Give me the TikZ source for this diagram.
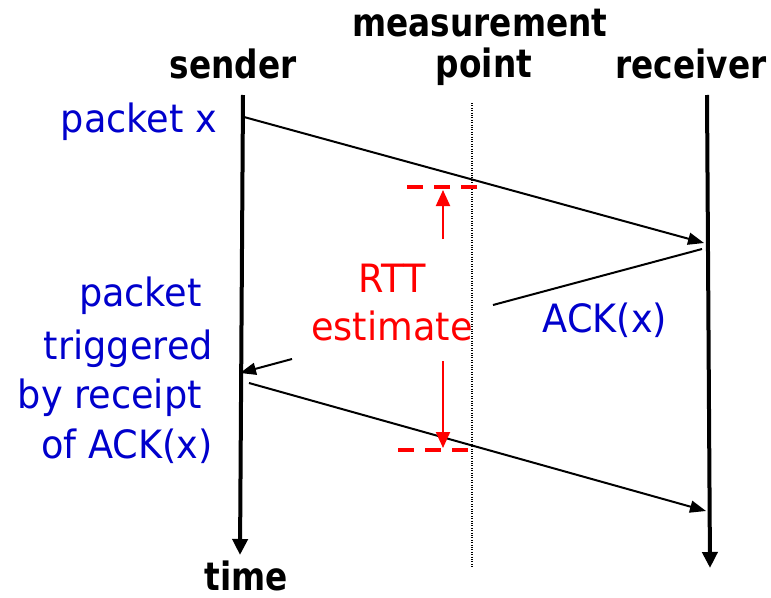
\documentclass[tikz,border=0pt]{standalone}
\usepackage{fontspec}
\setmainfont{DejaVu Sans}
\newfontfamily\lblfont[FakeStretch=0.94]{DejaVu Sans}
\newfontfamily\hdfont[FakeStretch=0.84]{DejaVu Sans}
\usetikzlibrary{arrows.meta}
\definecolor{msgblue}{RGB}{0,0,204}
\definecolor{rttred}{RGB}{255,0,0}

\begin{document}
\begin{tikzpicture}[x=1pt,y=-1pt,
  heading/.style={font={\hdfont\bfseries\fontsize{39}{47}\selectfont}, inner sep=0pt, anchor=base},
  bluelabel/.style={font={\lblfont\fontsize{39}{47}\selectfont}, text=msgblue, inner sep=0pt},
  redlabel/.style={font={\lblfont\fontsize{39}{47}\selectfont}, text=rttred, inner sep=0pt, anchor=base},
  timeline/.style={line width=4pt, -{Triangle[length=16pt,width=15pt]}},
  message/.style={line width=2pt, -{Triangle[length=16pt,width=12pt]}},
  msgline/.style={line width=2pt},
  probe/.style={line width=1.2pt, dash pattern=on 1pt off 1.4pt},
  rttmark/.style={rttred, line width=4pt, dash pattern=on 16pt off 11pt},
  rttarrow/.style={rttred, line width=2pt, -{Triangle[length=16pt,width=14pt]}}
]
\useasboundingbox (0,0) rectangle (771,597);

% column headings
\node[heading] (hmeas) at (480,36.7) {measurement};
\node[heading] (hpoint) at (484,77) {point};
\node[heading] (hsend) at (233,78) {sender};
\node[heading] (hrecv) at (691,78) {receiver};
\node[heading] (htime) at (246,590) {time};

% time lines
\coordinate (s0) at (243,95);
\coordinate (s1) at (240,555);
\coordinate (r0) at (707,95);
\coordinate (r1) at (710,568);
\coordinate (m0) at (472,103);
\coordinate (m1) at (472,568);
\draw[timeline] (s0) -- (s1);
\draw[timeline] (r0) -- (r1);
\draw[probe] (m0) -- (m1);

% packet x
\coordinate (p1a) at (244,117);
\coordinate (p1b) at (704,243);
\draw[message] (p1a) -- (p1b);

% ACK(x), interrupted by the RTT label
\coordinate (ack0) at (702,249);
\coordinate (ack1) at (493,305);
\coordinate (ack2) at (292,359);
\coordinate (ack3) at (240,373);
\draw[msgline] (ack0) -- (ack1);
\draw[message] (ack2) -- (ack3);

% triggered packet
\coordinate (p2a) at (249,383);
\coordinate (p2b) at (706,511);
\draw[message] (p2a) -- (p2b);

% RTT markers at the measurement point
\coordinate (rt0) at (407,187);
\coordinate (rt1) at (480,187);
\coordinate (rb0) at (398,450);
\coordinate (rb1) at (472,450);
\draw[rttmark] (rt0) -- (rt1);
\draw[rttmark] (rb0) -- (rb1);
\coordinate (ra0) at (443,239);
\coordinate (ra1) at (443,190);
\coordinate (rc0) at (443,361);
\coordinate (rc1) at (443,448);
\draw[rttarrow] (ra0) -- (ra1);
\draw[rttarrow] (rc0) -- (rc1);

% labels
\node[redlabel] (rtt) at (392,292) {RTT};
\node[redlabel] (est) at (392,340) {estimate};
\node[bluelabel, anchor=base] (pktx) at (139,132) {packet x};
\node[bluelabel, anchor=base] (ackx) at (605,332) {ACK(x)};
\node[bluelabel, anchor=base east] (t1) at (202,306.7) {packet};
\node[bluelabel, anchor=base east] (t2) at (213,359) {triggered};
\node[bluelabel, anchor=base east] (t3) at (202,408) {by receipt};
\node[bluelabel, anchor=base east] (t4) at (213,458) {of ACK(x)};
\end{tikzpicture}
\end{document}
